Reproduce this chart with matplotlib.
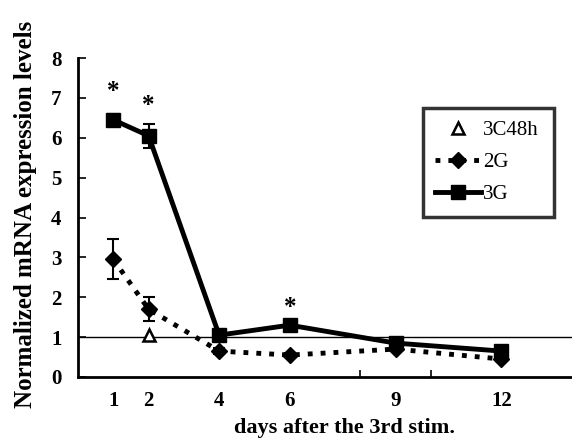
import matplotlib
matplotlib.use("Agg")
import matplotlib.pyplot as plt
from matplotlib.lines import Line2D

# days after the 3rd stimulation
days = [1, 2, 4, 6, 9, 12]

# 3G series
g3 = [6.45, 6.05, 1.05, 1.3, 0.85, 0.65]
g3_err = [0.15, 0.3, 0.08, 0.1, 0.08, 0.1]

# 2G series
g2 = [2.95, 1.7, 0.65, 0.55, 0.7, 0.45]
g2_err = [0.5, 0.3, 0.08, 0.06, 0.06, 0.06]

# 3C48h single point
c48_day = [2]
c48 = [1.05]

# significance stars
star_days = [1, 2, 6]
star_y = [7.15, 6.8, 1.75]

xtick_vals = [1, 2, 4, 6, 9, 12]
ytick_vals = [0, 1, 2, 3, 4, 5, 6, 7, 8]

plt.rcParams['font.family'] = ['Liberation Serif', 'DejaVu Serif']
plt.rcParams['font.weight'] = 'bold'

fig = plt.figure(figsize=(5.72, 4.43), dpi=100)
ax = fig.add_axes([0.1364, 0.149, 0.8636, 0.720])

ax.axhline(1, color='black', lw=1.0, zorder=1)

ax.errorbar(days, g2, yerr=g2_err, color='black', ls=':', lw=3.5,
            marker='D', ms=8, capsize=4, elinewidth=1.5, capthick=1.5, zorder=3)
ax.errorbar(days, g3, yerr=g3_err, color='black', ls='-', lw=3.5,
            marker='s', ms=10, capsize=4, elinewidth=1.5, capthick=1.5, zorder=4)
ax.plot(c48_day, c48, ls='none', marker='^', ms=9, mfc='white', mec='black',
        mew=1.8, zorder=5)

for x, y in zip(star_days, star_y):
    ax.text(x, y, '*', ha='center', va='center', fontsize=18, fontweight='bold')

ax.set_xlim(0, 14)
ax.set_ylim(0, 8)
ax.set_xticks(xtick_vals)
ax.set_xticklabels([str(v) for v in xtick_vals])
ax.set_xticks([2, 4, 6, 8, 10, 12], minor=True)
ax.tick_params(axis='x', which='major', length=0, pad=10, labelsize=15)
ax.tick_params(axis='x', which='minor', direction='in', length=5, width=1.2)
ax.set_yticks(ytick_vals)
ax.tick_params(axis='y', direction='in', length=6, width=1.2, pad=12, labelsize=15)

ax.spines['top'].set_visible(False)
ax.spines['right'].set_visible(False)
ax.spines['left'].set_linewidth(2)
ax.spines['bottom'].set_linewidth(2)

ax.set_xlabel('days after the 3rd stim.', fontsize=16, fontweight='bold')
ax.xaxis.set_label_coords(0.54, -0.13)
ax.set_ylabel('Normalized mRNA expression levels', fontsize=18, fontweight='bold')
ax.yaxis.set_label_coords(-0.083, 0.51)

handles = [
    Line2D([], [], ls='none', marker='^', ms=9, mfc='white', mec='black', mew=1.8),
    Line2D([], [], color='black', ls=':', lw=3.5, marker='D', ms=8),
    Line2D([], [], color='black', ls='-', lw=3.5, marker='s', ms=10),
]
leg = ax.legend(handles, ['3C48h', '2G', '3G'], loc='upper left',
                bbox_to_anchor=(0.698, 0.489, 0.266, 0.354), mode='expand',
                prop={'size': 15, 'weight': 'normal'}, frameon=True,
                fancybox=False, edgecolor='black',
                handlelength=2.2, handletextpad=0.1, labelspacing=0.6,
                borderpad=0.6, borderaxespad=0)
leg.get_frame().set_linewidth(2.5)

fig.savefig('out.png', dpi=100)
